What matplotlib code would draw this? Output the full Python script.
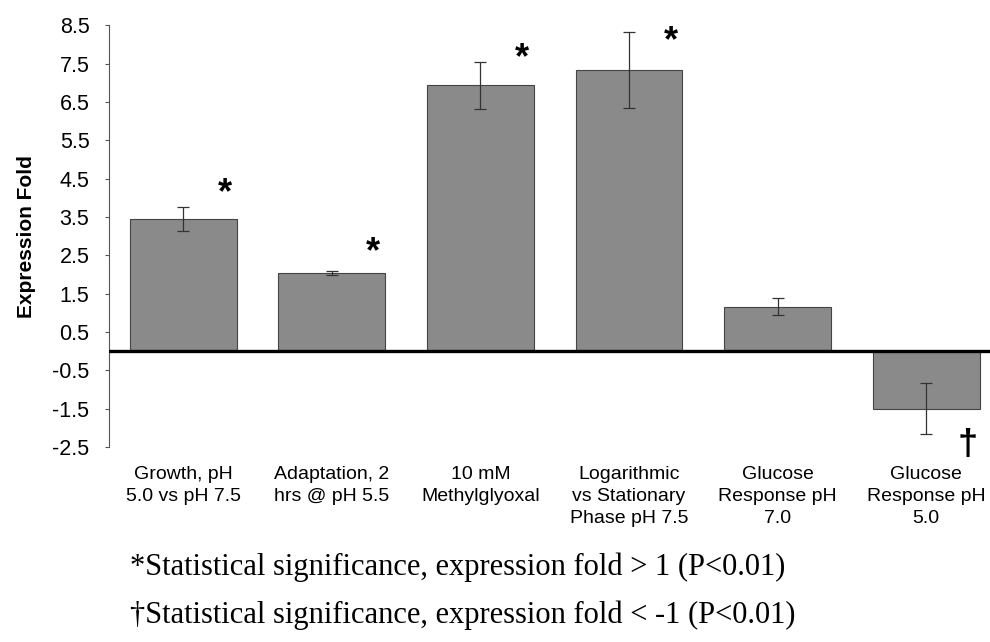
import matplotlib.pyplot as plt

# values
conditions = ["Growth, pH\n5.0 vs pH 7.5",
              "Adaptation, 2\nhrs @ pH 5.5",
              "10 mM\nMethylglyoxal",
              "Logarithmic\nvs Stationary\nPhase pH 7.5",
              "Glucose\nResponse pH\n7.0",
              "Glucose\nResponse pH\n5.0"]
fold = [3.45, 2.03, 6.93, 7.33, 1.16, -1.50]
fold_err = [0.32, 0.05, 0.62, 1.00, 0.22, 0.66]
marks = ["*", "*", "*", "*", "", "\u2020"]
mark_y = [4.12, 2.58, 7.62, 8.07, 0.0, -2.45]
yticks = [-2.5, -1.5, -0.5, 0.5, 1.5, 2.5, 3.5, 4.5, 5.5, 6.5, 7.5, 8.5]
notes = ["*Statistical significance, expression fold > 1 (P<0.01)",
         "\u2020Statistical significance, expression fold < -1 (P<0.01)"]

fig = plt.figure(figsize=(9.9, 6.42), dpi=100)
ax = fig.add_axes([0.110, 0.3037, 0.9006, 0.657])

x = list(range(len(fold)))
ax.bar(x, fold, width=0.72, color="#8a8a8a", edgecolor="#444444", linewidth=0.8)
ax.errorbar(x, fold, yerr=fold_err, fmt="none", ecolor="#333333",
            elinewidth=0.9, capsize=4, capthick=0.9)
ax.axhline(0, color="black", linewidth=2.4, zorder=5)

for xi, m, my in zip(x, marks, mark_y):
    if m:
        ax.text(xi + 0.28, my, m, ha="center", va="center",
                fontsize=26, fontweight="bold", family="Liberation Sans")

ax.set_xlim(-0.5, 5.5)
ax.set_ylim(-2.5, 8.5)
ax.set_yticks(yticks)
ax.set_yticklabels([f"{t:.1f}" for t in yticks], family="Liberation Sans", fontsize=15.5)
ax.set_xticks(x)
ax.set_xticklabels(conditions, family="Liberation Sans", fontsize=14,
                   linespacing=1.37)
ax.tick_params(axis="x", length=0, pad=14)
ax.tick_params(axis="y", length=3, width=0.8, color="#555555", pad=11)
ax.set_ylabel("Expression Fold", family="Liberation Sans", fontsize=15,
              fontweight="bold", labelpad=12)

for s in ["top", "right", "bottom"]:
    ax.spines[s].set_visible(False)
ax.spines["left"].set_color("#555555")
ax.spines["left"].set_linewidth(0.8)

fig.text(0.131, 0.117, notes[0], family="Liberation Serif", fontsize=22, va="center")
fig.text(0.131, 0.042, notes[1], family="Liberation Serif", fontsize=22, va="center")

fig.savefig("out.png", dpi=100)
